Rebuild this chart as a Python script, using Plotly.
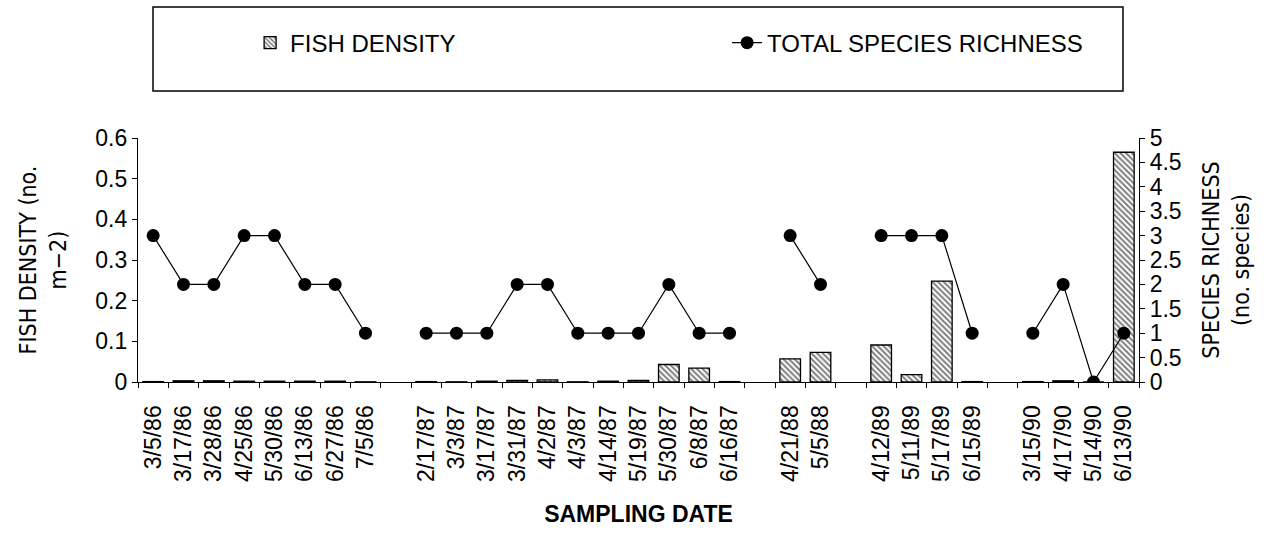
import plotly.graph_objects as go

# Sampling dates; empty strings are spacer slots between sampling years
dates = ["3/5/86", "3/17/86", "3/28/86", "4/25/86", "5/30/86", "6/13/86", "6/27/86", "7/5/86", "",
         "2/17/87", "3/3/87", "3/17/87", "3/31/87", "4/2/87", "4/3/87", "4/14/87", "5/19/87",
         "5/30/87", "6/8/87", "6/16/87", "",
         "4/21/88", "5/5/88", "",
         "4/12/89", "5/11/89", "5/17/89", "6/15/89", "",
         "3/15/90", "4/17/90", "5/14/90", "6/13/90"]

# Fish density (no. m-2)
density = [0.001, 0.003, 0.003, 0.002, 0.002, 0.002, 0.002, 0.0005, None,
           0.001, 0.0005, 0.002, 0.004, 0.005, 0.0005, 0.002, 0.004,
           0.043, 0.034, 0.001, None,
           0.057, 0.073, None,
           0.091, 0.018, 0.248, 0.001, None,
           0.001, 0.003, 0.0, 0.565]

# Total species richness (no. species)
richness = [3, 2, 2, 3, 3, 2, 2, 1, None,
            1, 1, 1, 2, 2, 1, 1, 1, 2, 1, 1, None,
            3, 2, None,
            3, 3, 3, 1, None,
            1, 2, 0, 1]

x = list(range(len(dates)))

NARROW = "Liberation Sans Narrow, Arial Narrow, DejaVu Sans Condensed, Liberation Sans, sans-serif"
SANS = "Liberation Sans, Arial, Helvetica, sans-serif"

fig = go.Figure()

fig.add_trace(go.Bar(
    x=x, y=density, name="FISH DENSITY", width=0.68,
    marker=dict(color="white", line=dict(color="black", width=1.3),
                pattern=dict(shape="\\", fgcolor="black", bgcolor="white",
                             size=4, solidity=0.5)),
    yaxis="y",
))

fig.add_trace(go.Scatter(
    x=x, y=richness, name="TOTAL SPECIES RICHNESS", mode="lines+markers",
    line=dict(color="black", width=1.2),
    marker=dict(color="black", size=13),
    connectgaps=False, yaxis="y2",
))

fig.update_layout(
    width=1275, height=535,
    margin=dict(l=138, r=136, t=138, b=153),
    paper_bgcolor="white", plot_bgcolor="white",
    font=dict(family=SANS, color="black", size=22),
    showlegend=True,
    legend=dict(orientation="h", x=0.112, xanchor="left", y=1.389, yanchor="middle",
                font=dict(family=SANS, size=24, color="black"),
                entrywidth=432, entrywidthmode="pixels",
                bgcolor="rgba(0,0,0,0)", borderwidth=0),
    bargap=0.3,
    xaxis=dict(
        range=[-0.5, len(dates) - 0.5],
        tickmode="array", tickvals=x, ticktext=dates,
        tickangle=-90, ticks="", ticklabelstandoff=13,
        tickfont=dict(family=SANS, size=23),
        minor=dict(tickmode="array", tickvals=[i - 0.5 for i in range(len(dates) + 1)],
                   ticks="outside", ticklen=5, tickcolor="black", showgrid=False),
        showline=True, linecolor="black", linewidth=1.2,
        showgrid=False, zeroline=False,
        title=dict(text="<b>SAMPLING DATE</b>", standoff=24,
                   font=dict(family=SANS, size=23)),
    ),
    yaxis=dict(
        range=[0, 0.6], dtick=0.1,
        ticks="outside", ticklen=5, tickcolor="black",
        showline=True, linecolor="black", linewidth=1.2,
        showgrid=False, zeroline=False,
        tickfont=dict(family=SANS, size=23),
        title=dict(text="FISH DENSITY (no.<br>m−2)", standoff=22,
                   font=dict(family=NARROW, size=23)),
    ),
    yaxis2=dict(
        range=[0, 5], dtick=0.5, overlaying="y", side="right",
        ticks="outside", ticklen=5, tickcolor="black",
        showline=True, linecolor="black", linewidth=1.2,
        showgrid=False, zeroline=False,
        tickfont=dict(family=SANS, size=23),
        title=dict(text="SPECIES RICHNESS<br>(no. species)", standoff=22,
                   font=dict(family=NARROW, size=23)),
    ),
    shapes=[dict(type="rect", xref="paper", yref="paper",
                 x0=0.015, x1=0.984, y0=1.193, y1=1.537,
                 line=dict(color="black", width=1.5), fillcolor="rgba(0,0,0,0)")],
)

fig.write_html("out.html")
